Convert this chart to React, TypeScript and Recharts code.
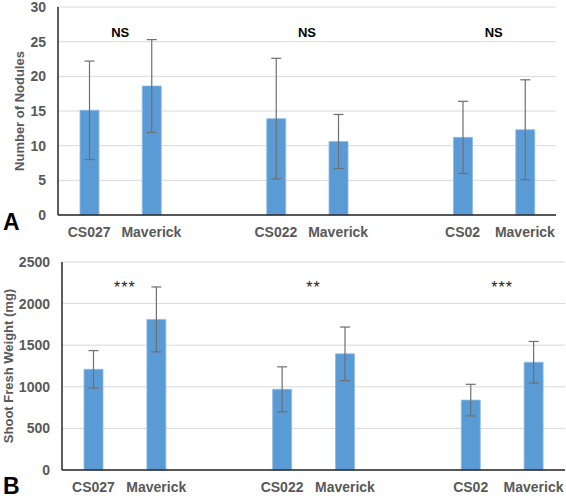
import React from 'react';
import {
  ComposedChart, Bar, XAxis, YAxis, CartesianGrid, ErrorBar, ReferenceDot,
} from 'recharts';

// categories: 8 slots, two empty spacer slots between strain pairs
const categories = ['CS027', 'Maverick', '', 'CS022', 'Maverick', '', 'CS02', 'Maverick'];
const slots = [0, 1, 2, 3, 4, 5, 6, 7];

// Panel A: number of nodules
const noduleMeans = [15.1, 18.6, null, 13.9, 10.6, null, 11.2, 12.3];
const noduleErr = [7.1, 6.7, null, 8.7, 3.9, null, 5.2, 7.2];
const noduleTicks = [0, 5, 10, 15, 20, 25, 30];

// Panel B: shoot fresh weight (mg)
const weightMeans = [1210, 1810, null, 970, 1396, null, 840, 1295];
const weightErr = [225, 390, null, 270, 322, null, 190, 250];
const weightTicks = [0, 500, 1000, 1500, 2000, 2500];

// significance labels (slot position = boundary between the two bars of a pair)
const sigPositions = [0.5, 3.5, 6.5];
const noduleSig = ['NS', 'NS', 'NS'];
const noduleSigY = 26.3;
const weightSig = ['***', '**', '***'];
const weightSigY = 2190;

const dataA = categories.map((c, i) => ({ name: c, slot: slots[i], value: noduleMeans[i], err: noduleErr[i] }));
const dataB = categories.map((c, i) => ({ name: c, slot: slots[i], value: weightMeans[i], err: weightErr[i] }));

const FONT = "'Liberation Sans', Arial, sans-serif";
const BLUE = '#5b9bd5';
const TXT = '#595959';

const tickStyle = { fill: TXT, fontSize: 14, fontWeight: 700, fontFamily: FONT };

function Panel(props: {
  data: any[]; ticks: number[]; domainMax: number; title: string; titleOffset: number;
  yWidth: number; margin: any; width: number; height: number;
  sig: string[]; sigY: number; sigStyle: any;
}) {
  const { data, ticks, domainMax, title, titleOffset, yWidth, margin, width, height, sig, sigY, sigStyle } = props;
  return (
    <ComposedChart width={width} height={height} data={data} margin={margin}>
      <CartesianGrid vertical={false} stroke="#d9d9d9" strokeWidth={1} />
      <XAxis
        dataKey="name"
        tickLine={false}
        axisLine={{ stroke: '#262626', strokeWidth: 1.5 }}
        tick={tickStyle}
        tickMargin={6}
        interval={0}
        height={30}
      />
      <XAxis xAxisId="sig" dataKey="slot" type="number" domain={[-0.5, 7.5]} allowDataOverflow hide />
      <YAxis
        width={yWidth}
        domain={[0, domainMax]}
        ticks={ticks}
        interval={0}
        tickLine={false}
        axisLine={{ stroke: '#262626', strokeWidth: 1.5 }}
        tick={tickStyle}
        tickMargin={6}
        label={{
          value: title,
          angle: -90,
          position: 'insideLeft',
          offset: titleOffset,
          style: { textAnchor: 'middle', fill: TXT, fontSize: 13, fontWeight: 700, fontFamily: FONT },
        }}
      />
      <Bar dataKey="value" fill={BLUE} stroke="#8dbbe6" strokeWidth={0.8} barSize={19} isAnimationActive={false}>
        <ErrorBar dataKey="err" width={5} stroke="#6f6f6f" strokeWidth={1.2} direction="y" />
      </Bar>
      {sigPositions.map((p, i) => (
        <ReferenceDot
          key={i}
          xAxisId="sig"
          x={p}
          y={sigY}
          r={0}
          fill="none"
          stroke="none"
          label={{ value: sig[i], position: 'center', style: sigStyle }}
        />
      ))}
    </ComposedChart>
  );
}

export default function App() {
  return (
    <div style={{ position: 'absolute', left: 0, top: 0, width: 566, height: 498, background: '#fff', fontFamily: FONT }}>
      <div style={{ position: 'absolute', left: 0, top: 0 }}>
        <Panel
          data={dataA}
          ticks={noduleTicks}
          domainMax={30}
          title="Number of Nodules"
          titleOffset={19}
          yWidth={58}
          margin={{ top: 7, right: 10, bottom: 5, left: 0 }}
          width={566}
          height={250}
          sig={noduleSig}
          sigY={noduleSigY}
          sigStyle={{ fill: '#000', fontSize: 13, fontWeight: 700, fontFamily: FONT }}
        />
      </div>
      <div style={{ position: 'absolute', left: 0, top: 250 }}>
        <Panel
          data={dataB}
          ticks={weightTicks}
          domainMax={2500}
          title="Shoot Fresh Weight (mg)"
          titleOffset={8}
          yWidth={62}
          margin={{ top: 12, right: 1, bottom: -2, left: 0 }}
          width={566}
          height={248}
          sig={weightSig}
          sigY={weightSigY}
          sigStyle={{ fill: '#222', fontSize: 16, fontWeight: 400, letterSpacing: 1, fontFamily: FONT }}
        />
      </div>
      <div style={{ position: 'absolute', left: 3, top: 209, fontSize: 23, fontWeight: 700, color: '#000', fontFamily: FONT }}>A</div>
      <div style={{ position: 'absolute', left: 3, top: 473, fontSize: 23, fontWeight: 700, color: '#000', fontFamily: FONT }}>B</div>
    </div>
  );
}
